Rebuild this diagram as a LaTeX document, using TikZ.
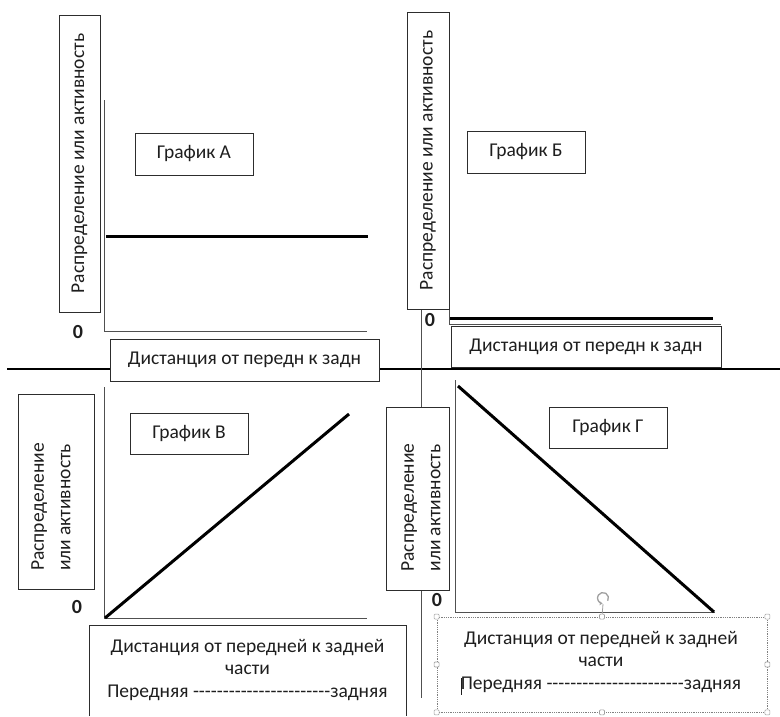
\documentclass[tikz,border=0pt]{standalone}
\usepackage{fontspec}
\setmainfont{Carlito}
\usetikzlibrary{arrows.meta}
\definecolor{txt}{RGB}{30,30,30}
\definecolor{boxc}{RGB}{45,45,45}
\definecolor{axc}{RGB}{80,80,80}
\definecolor{handlec}{RGB}{160,160,160}
\newcommand\hy{-\kern0pt}
\newcommand\dashrun{\hy\hy\hy\hy\hy\hy\hy\hy\hy\hy\hy\hy\hy\hy\hy\hy\hy\hy\hy\hy\hy\hy\hy}
\begin{document}
\begin{tikzpicture}[x=1pt,y=-1pt,
  lbl/.style={font=\fontsize{19.5}{26.5}\selectfont, text=txt},
  xlbl/.style={font=\fontsize{19.5}{22.8}\selectfont, text=txt, align=center},
  boxn/.style={draw=boxc, fill=white, line width=0.9pt, inner sep=0pt},
  axisl/.style={draw=axc, line width=0.9pt},
  curvel/.style={draw=black, line width=3pt},
  zeron/.style={font=\fontsize{20}{22}\selectfont\bfseries, text=txt, inner sep=0pt},
  handlen/.style={draw=handlec, fill=white, rounded corners=1pt, minimum size=5pt, inner sep=0pt, line width=0.6pt}
]
\useasboundingbox (0,0) rectangle (780,716);
\fill[white] (0,0) rectangle (780,716);

% divider lines
\coordinate (hL) at (7,369);
\coordinate (hR) at (780,369);
\draw[draw=black, line width=1.5pt] (hL) -- (hR);
\coordinate (vT) at (421,309);
\coordinate (vB) at (421,698);
\draw[axisl] (vT) -- (vB);

% ---------- Graph A ----------
\coordinate (Atop) at (104,100);
\coordinate (A0) at (104,331);
\coordinate (Aend) at (367,331);
\draw[axisl] (Atop) -- (A0) -- (Aend);
\coordinate (Ac1) at (106,236);
\coordinate (Ac2) at (368,236);
\draw[curvel] (Ac1) -- (Ac2);
\node[boxn, lbl, rotate=90, minimum width=297pt, minimum height=41pt] (ylA) at (79.5,163.5) {Распределение или активность};
\node[boxn, lbl, minimum width=118pt, minimum height=42pt] (tA) at (194,154) {График А};
\node[zeron] (zA) at (78,332) {0};
\node[boxn, lbl, minimum width=269pt, minimum height=42pt] (xA) at (244.5,360) {Дистанция от передн к задн};

% ---------- Graph B (Б) ----------
\coordinate (Btop) at (449,309);
\coordinate (B0) at (449,324);
\coordinate (Bend) at (721,324);
\draw[axisl] (Btop) -- (B0) -- (Bend);
\coordinate (Bc1) at (450,318);
\coordinate (Bc2) at (713,318);
\draw[curvel] (Bc1) -- (Bc2);
\node[boxn, lbl, rotate=90, minimum width=297pt, minimum height=42pt] (ylB) at (428,160.5) {Распределение или активность};
\node[boxn, lbl, minimum width=118pt, minimum height=42pt] (tB) at (526,152) {График Б};
\node[zeron] (zB) at (430,320) {0};
\node[boxn, lbl, minimum width=270pt, minimum height=41pt] (xB) at (586,346.5) {Дистанция от передн к задн};

% ---------- Graph C (В) ----------
\coordinate (Ctop) at (104,387);
\coordinate (C0) at (104,618);
\coordinate (Cend) at (367,618);
\draw[axisl] (Ctop) -- (C0) -- (Cend);
\coordinate (Cc1) at (105,618);
\coordinate (Cc2) at (349,414);
\draw[curvel] (Cc1) -- (Cc2);
\node[boxn, rotate=90, minimum width=195pt, minimum height=76pt] (ylC) at (56,491.5) {};
\node[lbl, rotate=90, align=left, inner sep=0pt] (ylCt) at (51,507) {Распределение\\или активность};
\node[boxn, lbl, minimum width=118pt, minimum height=41pt] (tC) at (189,433.5) {График В};
\node[zeron] (zC) at (77,607) {0};
\coordinate (xCa) at (89,716);
\coordinate (xCb) at (89,625);
\coordinate (xCc) at (406,625);
\coordinate (xCd) at (406,716);
\fill[white] (xCa) -- (xCb) -- (xCc) -- (xCd) -- cycle;
\draw[draw=boxc, line width=0.9pt] (xCa) -- (xCb) -- (xCc) -- (xCd);
\node[xlbl, inner sep=0pt] (xC) at (247.5,670) {Дистанция от передней к задней\\части\\Передняя \dashrun задняя};

% ---------- Graph D (Г) ----------
\coordinate (Dtop) at (455,380);
\coordinate (D0) at (455,612);
\coordinate (Dend) at (715,612);
\draw[axisl] (Dtop) -- (D0) -- (Dend);
\coordinate (Dc1) at (458,386);
\coordinate (Dc2) at (714,612);
\draw[curvel] (Dc1) -- (Dc2);
\node[boxn, rotate=90, minimum width=183pt, minimum height=63pt] (ylD) at (417.5,498.5) {};
\node[lbl, rotate=90, align=left, inner sep=0pt] (ylDt) at (421,507.5) {Распределение\\или активность};
\node[boxn, lbl, minimum width=118pt, minimum height=41pt] (tD) at (608,427.5) {График Г};
\node[zeron] (zD) at (437,600) {0};

% selection frame
\node[draw=gray, densely dotted, line width=0.8pt, fill=white, minimum width=330pt, minimum height=95pt, inner sep=0pt] (selD) at (602,664.5) {};
\node[xlbl, inner sep=0pt] (xD) at (601,662) {Дистанция от передней к задней\\части\\Передняя \dashrun задняя};
\coordinate (curT) at (461,678);
\coordinate (curB) at (461,695);
\draw[draw=txt, line width=0.7pt] (curT) -- (curB);

% rotate handle
\node[inner sep=0pt, minimum size=12pt] (rot) at (603,598) {};
\draw[handlec, line width=1.3pt, -{Stealth[length=3pt,width=4pt]}] (rot.center) ++(-30:5.5pt) arc[start angle=-30, end angle=265, radius=5.5pt];
\draw[handlec, line width=0.8pt] (rot.south) -- (selD.north);

% handles
\node[handlen] (h1) at (selD.north west) {};
\node[handlen] (h2) at (selD.north) {};
\node[handlen] (h3) at (selD.north east) {};
\node[handlen] (h4) at (selD.west) {};
\node[handlen] (h5) at (selD.east) {};
\node[handlen] (h6) at (selD.south west) {};
\node[handlen] (h7) at (selD.south) {};
\node[handlen] (h8) at (selD.south east) {};
\end{tikzpicture}
\end{document}
